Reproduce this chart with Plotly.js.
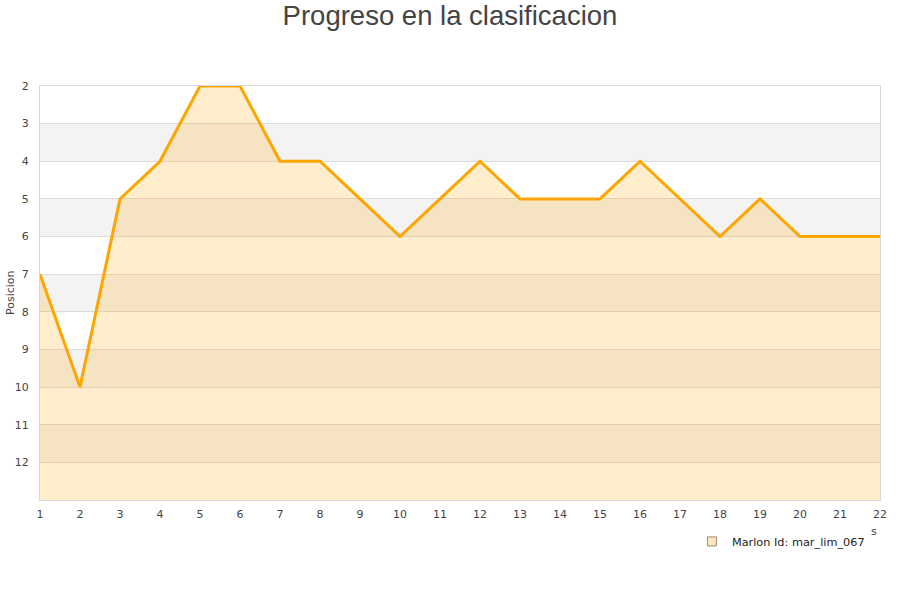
<!DOCTYPE html>
<html><head><meta charset="utf-8">
<script src="https://cdn.plot.ly/plotly-3.0.1.min.js"></script>
<style>body{margin:0;}#chart{width:900px;height:600px;}</style>
</head><body><div id="chart"></div>
<script>
const jornadas = [1,2,3,4,5,6,7,8,9,10,11,12,13,14,15,16,17,18,19,20,21,22];
const posiciones = [7,10,5,4,2,2,4,4,5,6,5,4,5,5,5,4,5,6,5,6,6,6];
const yTicks = [2,3,4,5,6,7,8,9,10,11,12];
const bandStarts = [3,5,7,9,11];
const baseline = 13;
const serieName = 'Marlon Id: mar_lim_067';

const shapes = bandStarts.map(s => ({
  type:'rect', xref:'paper', yref:'y', x0:0, x1:1, y0:s, y1:s+1,
  fillcolor:'#f3f3f3', line:{width:0}, layer:'below'
}));

const traces = [
  {x:jornadas, y:jornadas.map(()=>baseline), mode:'lines', line:{width:0}, showlegend:false, hoverinfo:'skip'},
  {x:jornadas, y:posiciones, mode:'lines', fill:'tonexty', fillcolor:'rgba(255,165,0,0.2)',
   line:{color:'#ffa500', width:3}, showlegend:false},
  {x:[null], y:[null], mode:'markers', name:serieName,
   marker:{symbol:'square', size:9, color:'#fde7c2', line:{color:'#9a8a70', width:1}}}
];

const layout = {
  width:900, height:600,
  margin:{l:40, r:20, t:86, b:100},
  paper_bgcolor:'#fff', plot_bgcolor:'#fff',
  font:{family:'DejaVu Sans, sans-serif', size:11, color:'#444'},
  title:{text:'Progreso en la clasificacion', x:0.5, xanchor:'center', y:0.975, yanchor:'middle',
    font:{family:'Liberation Sans, Arial, sans-serif', size:27.5, color:'#444'}},
  xaxis:{range:[1,22], tickvals:jornadas, showgrid:false, zeroline:false,
    showline:true, linecolor:'#d9d9d9', linewidth:1, mirror:true, ticks:'', ticklen:0,
    ticklabelstandoff:4, tickfont:{size:11, color:'#444'}},
  yaxis:{range:[13,2], tickvals:yTicks, showgrid:true, gridcolor:'#dcdcdc', gridwidth:1, zeroline:false,
    showline:true, linecolor:'#d9d9d9', linewidth:1, mirror:true, ticks:'outside', ticklen:8, tickcolor:'rgba(0,0,0,0)',
    tickfont:{size:11, color:'#444'}},
  shapes:shapes,
  showlegend:true,
  legend:{x:0.988, xanchor:'right', y:-0.065, yanchor:'top', orientation:'h',
    font:{size:11.3, color:'#222'}, bgcolor:'rgba(0,0,0,0)', itemwidth:30},
  annotations:[
    {xref:'paper', yref:'paper', x:0.993, y:-0.075, text:'s', showarrow:false,
     font:{size:11, color:'#444'}, xanchor:'center', yanchor:'middle'},
    {xref:'paper', yref:'paper', x:-0.0357, xanchor:'center', y:0.5, yanchor:'middle',
     text:'Posicion', textangle:-90, showarrow:false, font:{size:11, color:'#444'}}
  ]
};
Plotly.newPlot('chart', traces, layout, {displayModeBar:false, staticPlot:true});
</script></body></html>
